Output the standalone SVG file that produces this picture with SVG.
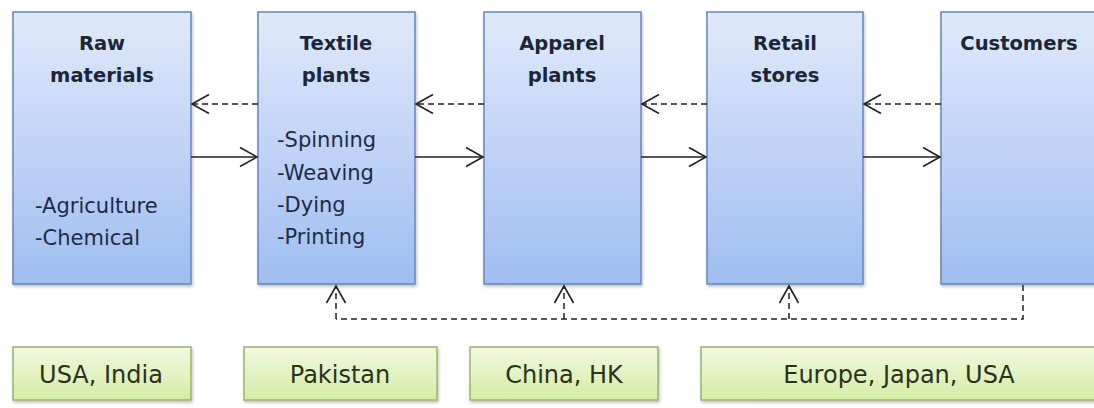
<svg xmlns="http://www.w3.org/2000/svg" width="1094" height="408" viewBox="0 0 1094 408">
<defs>
<linearGradient id="gBlue" x1="0" y1="0" x2="0" y2="1">
<stop offset="0" stop-color="#e0eafb"/>
<stop offset="1" stop-color="#a0bdf1"/>
</linearGradient>
<linearGradient id="gGreen" x1="0" y1="0" x2="0" y2="1">
<stop offset="0" stop-color="#f1f9df"/>
<stop offset="1" stop-color="#d5eca6"/>
</linearGradient>
<filter id="sh" x="-10%" y="-10%" width="120%" height="120%">
<feDropShadow dx="1" dy="2" stdDeviation="1.5" flood-color="#000" flood-opacity="0.25"/>
</filter>
<marker id="ah" viewBox="0 0 22 22" refX="19" refY="11" markerWidth="22" markerHeight="22" markerUnits="userSpaceOnUse" orient="auto">
<path d="M2,1.5 L19,11 L2,20.5" fill="none" stroke="#222" stroke-width="1.6"/>
</marker>
</defs>
<style>
.blue{fill:url(#gBlue);stroke:#6686bb;stroke-width:1.5;filter:url(#sh)}
.green{fill:url(#gGreen);stroke:#9bb56c;stroke-width:1.5;filter:url(#sh)}
.title{font-family:"DejaVu Sans",sans-serif;font-weight:bold;font-size:19.5px;fill:#1b2638;text-anchor:middle}
.item{font-family:"DejaVu Sans",sans-serif;font-size:21px;fill:#1d2b45}
.loc{font-family:"DejaVu Sans",sans-serif;font-size:24px;fill:#2a3220;text-anchor:middle}
.solid{stroke:#222;stroke-width:1.6;fill:none;marker-end:url(#ah)}
.dash{stroke:#222;stroke-width:1.5;fill:none;stroke-dasharray:6,4}
.dasharrow{stroke:#222;stroke-width:1.5;fill:none;stroke-dasharray:6,4;marker-end:url(#ah)}
</style>
<g id="raw-materials">
<rect class="blue" x="13" y="12" width="178" height="272"/>
<text class="title" x="102" y="50">Raw</text>
<text class="title" x="102" y="82">materials</text>
<text class="item" x="35" y="213">-Agriculture</text>
<text class="item" x="35" y="245">-Chemical</text>
</g>
<g id="textile-plants">
<rect class="blue" x="258" y="12" width="157" height="272"/>
<text class="title" x="336" y="50">Textile</text>
<text class="title" x="336" y="82">plants</text>
<text class="item" x="277" y="147">-Spinning</text>
<text class="item" x="277" y="180">-Weaving</text>
<text class="item" x="277" y="212">-Dying</text>
<text class="item" x="277" y="244">-Printing</text>
</g>
<g id="apparel-plants">
<rect class="blue" x="484" y="12" width="157" height="272"/>
<text class="title" x="562" y="50">Apparel</text>
<text class="title" x="562" y="82">plants</text>
</g>
<g id="retail-stores">
<rect class="blue" x="707" y="12" width="156" height="272"/>
<text class="title" x="785" y="50">Retail</text>
<text class="title" x="785" y="82">stores</text>
</g>
<g id="customers">
<rect class="blue" x="941" y="12" width="158" height="272"/>
<text class="title" x="1019" y="50">Customers</text>
</g>
<g id="usa-india">
<rect class="green" x="13" y="347" width="178" height="53"/>
<text class="loc" x="101" y="383">USA, India</text>
</g>
<g id="pakistan">
<rect class="green" x="244" y="347" width="193" height="53"/>
<text class="loc" x="340" y="383">Pakistan</text>
</g>
<g id="china-hk">
<rect class="green" x="470" y="347" width="188" height="53"/>
<text class="loc" x="564" y="383">China, HK</text>
</g>
<g id="europe-japan-usa">
<rect class="green" x="701" y="347" width="396" height="53"/>
<text class="loc" x="899" y="383">Europe, Japan, USA</text>
</g>
<g id="connectors">
<path class="dasharrow" d="M258,104 H192"/>
<path class="dasharrow" d="M484,104 H416"/>
<path class="dasharrow" d="M707,104 H642"/>
<path class="dasharrow" d="M941,104 H864"/>
<path class="solid" d="M191,157 H257"/>
<path class="solid" d="M415,157 H483"/>
<path class="solid" d="M641,157 H706"/>
<path class="solid" d="M863,157 H940"/>
<path class="dash" d="M1023,285 V319 H336"/>
<path class="dasharrow" d="M336,319 V286"/>
<path class="dasharrow" d="M564,319 V286"/>
<path class="dasharrow" d="M789,319 V286"/>
</g>
</svg>
